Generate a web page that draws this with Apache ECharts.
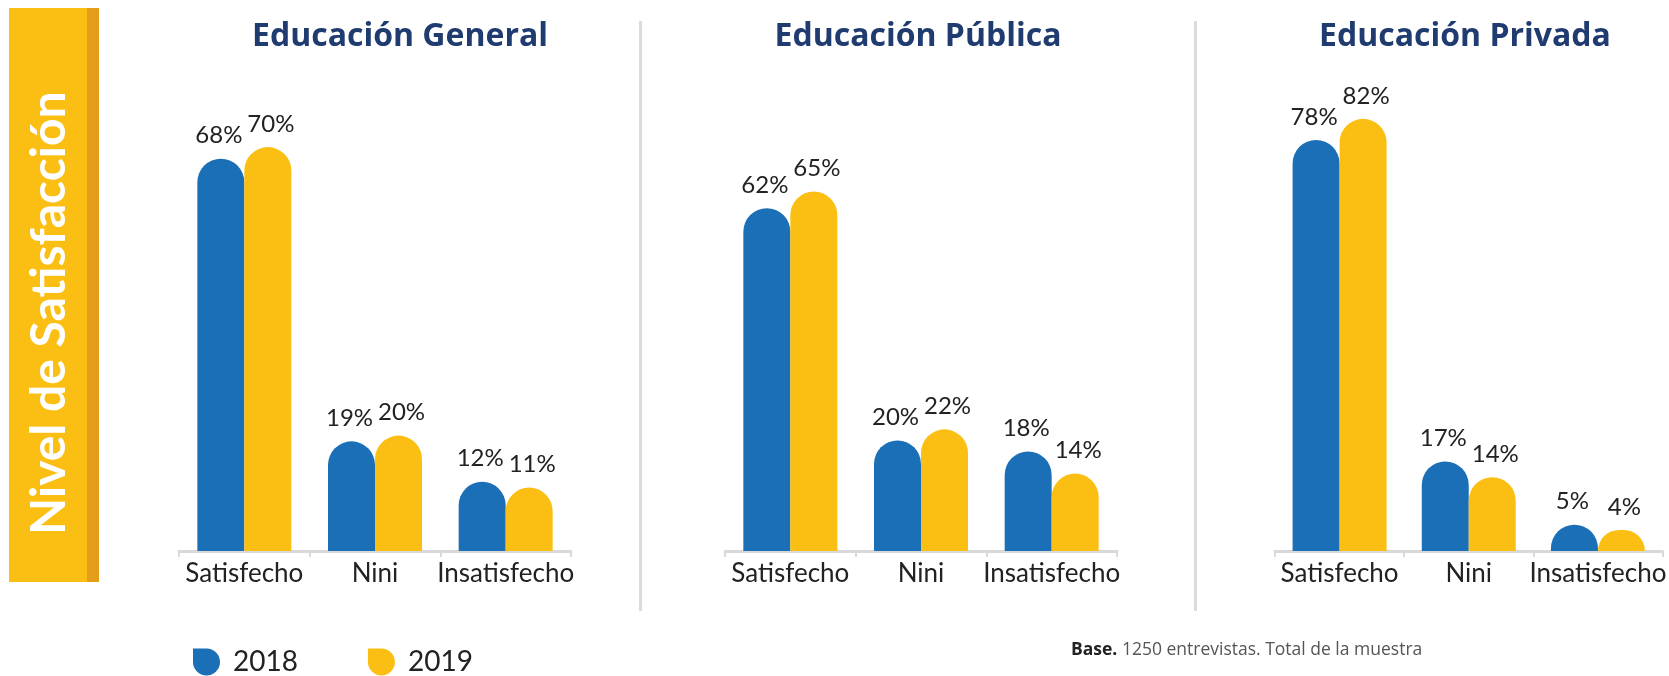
<!DOCTYPE html>
<html>
<head>
<meta charset="utf-8">
<script src="https://cdn.jsdelivr.net/npm/echarts@6/dist/echarts.min.js"></script>
<style>
html,body{margin:0;padding:0;background:#fff;}
#chart{width:1669px;height:676px;}
</style>
</head>
<body>
<div id="chart"></div>
<script>
const categories = ['Satisfecho', 'Nini', 'Insatisfecho'];
const panelTitles = ['Educación General', 'Educación Pública', 'Educación Privada'];
const seriesNames = ['2018', '2019'];
const general2018 = [68, 19, 12];
const general2019 = [70, 20, 11];
const publica2018 = [62, 20, 18];
const publica2019 = [65, 22, 14];
const privada2018 = [78, 17, 5];
const privada2019 = [82, 14, 4];
const sideTitle = 'Nivel de Satisfacción';
const footNote = 'Base.';
const footText = ' 1250 entrevistas. Total de la muestra';

const BLUE = '#1B6FB6';
const YELLOW = '#FBBF14';
const panelData = [[general2018, general2019], [publica2018, publica2019], [privada2018, privada2019]];

const grids = [
  {left: 179, width: 392, top: 89.4, bottom: 125},
  {left: 725, width: 392, top: 108.6, bottom: 125},
  {left: 1275, width: 390, top: 76.7, bottom: 125}
];
const yMax = [80, 80, 90];
const titleX = [400, 918, 1465];

const chart = echarts.init(document.getElementById('chart'));
const series = [];
panelData.forEach((pair, p) => {
  pair.forEach((vals, s) => {
    series.push({
      name: seriesNames[s],
      type: 'bar',
      xAxisIndex: p,
      yAxisIndex: p,
      data: vals,
      barWidth: 47,
      barGap: '0%',
      itemStyle: {color: s === 0 ? BLUE : YELLOW, borderRadius: [23.5, 23.5, 0, 0]},
      label: {
        show: true, position: 'top', distance: 11,
        formatter: '{c}%',
        fontFamily: 'Lato', fontSize: 24, color: '#222',
        offset: [s === 0 ? -2 : 3, 0]
      },
      emphasis: {disabled: true}
    });
  });
});

const legendIcon = 'path://M0,0 L10,0 A10,10 0 0 1 20,10 A10,10 0 0 1 10,20 A10,10 0 0 1 0,10 Z';

const graphic = [
  {type: 'rect', shape: {x: 9, y: 8, width: 78, height: 574}, style: {fill: '#FBBF14'}},
  {type: 'rect', shape: {x: 87, y: 8, width: 12, height: 574}, style: {fill: '#E49E19'}},
  {type: 'text', x: 50, y: 313, rotation: Math.PI / 2,
   style: {text: sideTitle, fill: '#fff', font: 'bold 48px Lato', textAlign: 'center', textVerticalAlign: 'middle'}},
  {type: 'line', shape: {x1: 640.5, y1: 21, x2: 640.5, y2: 611}, style: {stroke: '#dddad8', lineWidth: 3}},
  {type: 'line', shape: {x1: 1195.5, y1: 21, x2: 1195.5, y2: 611}, style: {stroke: '#dddad8', lineWidth: 3}},
  {type: 'text', x: 1071, y: 650,
   style: {text: '{b|' + footNote + '}' + footText, fill: '#555', font: '17.5px "Open Sans"', textVerticalAlign: 'middle',
     rich: {b: {fontWeight: 'bold', fill: '#222', fontSize: 17.5, fontFamily: 'Open Sans'}}}}
];
panelTitles.forEach((t, i) => {
  graphic.push({type: 'text', x: titleX[i], y: 37,
    style: {text: t, fill: '#1F3B6F', font: 'bold 32px "Open Sans"', textAlign: 'center', textVerticalAlign: 'middle'}});
});

chart.setOption({
  animation: false,
  grid: grids,
  xAxis: grids.map((g, i) => ({
    type: 'category', gridIndex: i, data: categories,
    axisLine: {lineStyle: {color: '#d9d9d9', width: 3}},
    axisTick: {show: true, length: 6, lineStyle: {color: '#d9d9d9', width: 2}},
    axisLabel: {fontFamily: 'Lato', fontSize: 26, color: '#222', margin: 10, interval: 0}
  })),
  yAxis: grids.map((g, i) => ({
    type: 'value', gridIndex: i, min: 0, max: yMax[i], show: false, splitLine: {show: false}
  })),
  legend: {
    data: seriesNames, left: 193, top: 648, padding: 0,
    itemWidth: 27, itemHeight: 28, itemGap: 70, icon: legendIcon,
    textStyle: {fontFamily: 'Lato', fontSize: 28, color: '#222', padding: [0, 0, 0, 8]},
    selectedMode: false
  },
  graphic: graphic,
  series: series
});
</script>
</body>
</html>
